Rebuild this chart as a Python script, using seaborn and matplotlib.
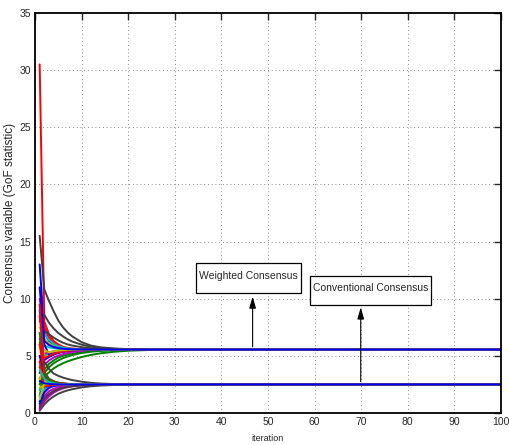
import matplotlib
matplotlib.use('Agg')
import matplotlib.pyplot as plt
from matplotlib.patches import Rectangle
import numpy as np
import pandas as pd
import seaborn as sns

iterations = [1, 2, 3, 4, 5, 6, 7, 8, 10, 12, 14, 17, 20, 25, 100]

# agents that settle on the weighted consensus (~5.55)
upper_agents = [
    [13.0, 7.0, 6.3, 5.95, 5.78, 5.68, 5.62, 5.59, 5.56, 5.55, 5.55, 5.55, 5.55, 5.55, 5.55],
    [2.0, 3.2, 3.55, 3.9, 4.15, 4.35, 4.52, 4.66, 4.9, 5.08, 5.22, 5.36, 5.45, 5.52, 5.55],
    [30.5, 8.0, 6.9, 6.3, 6.0, 5.8, 5.7, 5.64, 5.58, 5.56, 5.55, 5.55, 5.55, 5.55, 5.55],
    [6.2, 5.9, 5.75, 5.66, 5.61, 5.58, 5.57, 5.56, 5.55, 5.55, 5.55, 5.55, 5.55, 5.55, 5.55],
    [4.0, 4.6, 4.95, 5.15, 5.3, 5.38, 5.44, 5.48, 5.52, 5.54, 5.55, 5.55, 5.55, 5.55, 5.55],
    [7.5, 6.4, 6.0, 5.8, 5.7, 5.63, 5.6, 5.58, 5.56, 5.55, 5.55, 5.55, 5.55, 5.55, 5.55],
    [15.5, 10.8, 9.8, 8.9, 8.1, 7.5, 7.05, 6.7, 6.2, 5.9, 5.75, 5.64, 5.59, 5.56, 5.55],
    [5.0, 4.7, 4.9, 5.1, 5.25, 5.35, 5.42, 5.46, 5.51, 5.53, 5.54, 5.55, 5.55, 5.55, 5.55],
    [3.0, 3.8, 4.3, 4.6, 4.85, 5.0, 5.12, 5.22, 5.35, 5.43, 5.48, 5.52, 5.54, 5.55, 5.55],
    [10.0, 7.5, 6.6, 6.15, 5.9, 5.75, 5.67, 5.62, 5.57, 5.56, 5.55, 5.55, 5.55, 5.55, 5.55],
    [4.5, 5.0, 5.2, 5.32, 5.4, 5.45, 5.48, 5.5, 5.53, 5.54, 5.55, 5.55, 5.55, 5.55, 5.55],
    [3.5, 4.2, 4.6, 4.85, 5.02, 5.15, 5.25, 5.32, 5.42, 5.48, 5.51, 5.53, 5.54, 5.55, 5.55],
    [5.8, 6.5, 6.1, 5.88, 5.75, 5.67, 5.62, 5.59, 5.56, 5.55, 5.55, 5.55, 5.55, 5.55, 5.55],
    [8.0, 8.6, 7.9, 7.4, 7.0, 6.7, 6.45, 6.25, 5.98, 5.8, 5.7, 5.62, 5.58, 5.56, 5.55],
    [9.0, 6.0, 5.1, 5.2, 5.3, 5.38, 5.43, 5.47, 5.51, 5.53, 5.54, 5.55, 5.55, 5.55, 5.55],
    [1.5, 3.5, 4.0, 4.35, 4.6, 4.8, 4.95, 5.07, 5.25, 5.36, 5.43, 5.49, 5.52, 5.54, 5.55],
    [8.5, 4.8, 5.0, 5.18, 5.3, 5.38, 5.44, 5.48, 5.52, 5.54, 5.55, 5.55, 5.55, 5.55, 5.55],
    [7.0, 6.9, 6.4, 6.05, 5.85, 5.73, 5.66, 5.61, 5.57, 5.55, 5.55, 5.55, 5.55, 5.55, 5.55],
    [6.5, 5.2, 5.3, 5.4, 5.45, 5.49, 5.51, 5.53, 5.54, 5.55, 5.55, 5.55, 5.55, 5.55, 5.55],
    [2.5, 5.5, 5.3, 5.4, 5.46, 5.5, 5.52, 5.53, 5.54, 5.55, 5.55, 5.55, 5.55, 5.55, 5.55],
    [6.0, 7.2, 6.9, 6.6, 6.35, 6.15, 6.0, 5.9, 5.76, 5.67, 5.62, 5.58, 5.56, 5.55, 5.55],
    [11.0, 6.3, 5.95, 5.78, 5.68, 5.62, 5.59, 5.57, 5.56, 5.55, 5.55, 5.55, 5.55, 5.55, 5.55],
]

# agents that settle on the conventional consensus (~2.5)
lower_agents = [
    [5.0, 3.2, 2.85, 2.7, 2.62, 2.57, 2.54, 2.52, 2.51, 2.5, 2.5, 2.5, 2.5, 2.5, 2.5],
    [7.0, 3.6, 3.0, 2.78, 2.66, 2.59, 2.55, 2.53, 2.51, 2.5, 2.5, 2.5, 2.5, 2.5, 2.5],
    [9.5, 3.5, 2.95, 2.75, 2.64, 2.58, 2.55, 2.53, 2.51, 2.5, 2.5, 2.5, 2.5, 2.5, 2.5],
    [2.0, 2.2, 2.32, 2.4, 2.44, 2.47, 2.48, 2.49, 2.5, 2.5, 2.5, 2.5, 2.5, 2.5, 2.5],
    [0.4, 1.2, 1.65, 1.95, 2.13, 2.26, 2.34, 2.39, 2.45, 2.48, 2.49, 2.5, 2.5, 2.5, 2.5],
    [3.0, 2.8, 2.68, 2.6, 2.56, 2.53, 2.52, 2.51, 2.5, 2.5, 2.5, 2.5, 2.5, 2.5, 2.5],
    [0.2, 0.75, 1.15, 1.45, 1.68, 1.85, 1.98, 2.08, 2.24, 2.34, 2.4, 2.45, 2.48, 2.5, 2.5],
    [1.0, 2.0, 2.3, 2.4, 2.45, 2.48, 2.49, 2.5, 2.5, 2.5, 2.5, 2.5, 2.5, 2.5, 2.5],
    [4.0, 3.0, 2.75, 2.63, 2.57, 2.54, 2.52, 2.51, 2.5, 2.5, 2.5, 2.5, 2.5, 2.5, 2.5],
    [6.0, 3.3, 2.9, 2.72, 2.62, 2.57, 2.54, 2.52, 2.51, 2.5, 2.5, 2.5, 2.5, 2.5, 2.5],
    [1.5, 2.0, 2.25, 2.37, 2.43, 2.46, 2.48, 2.49, 2.5, 2.5, 2.5, 2.5, 2.5, 2.5, 2.5],
    [0.6, 1.5, 1.9, 2.12, 2.26, 2.35, 2.41, 2.44, 2.48, 2.49, 2.5, 2.5, 2.5, 2.5, 2.5],
    [2.2, 2.45, 2.48, 2.5, 2.5, 2.5, 2.5, 2.5, 2.5, 2.5, 2.5, 2.5, 2.5, 2.5, 2.5],
    [3.5, 4.5, 3.85, 3.45, 3.25, 3.1, 2.98, 2.88, 2.74, 2.64, 2.58, 2.53, 2.51, 2.5, 2.5],
    [0.8, 1.8, 2.2, 2.36, 2.44, 2.47, 2.49, 2.5, 2.5, 2.5, 2.5, 2.5, 2.5, 2.5, 2.5],
    [2.5, 3.4, 2.9, 2.7, 2.6, 2.55, 2.52, 2.51, 2.5, 2.5, 2.5, 2.5, 2.5, 2.5, 2.5],
    [4.5, 2.3, 2.4, 2.45, 2.48, 2.49, 2.5, 2.5, 2.5, 2.5, 2.5, 2.5, 2.5, 2.5, 2.5],
    [3.8, 3.0, 2.7, 2.6, 2.55, 2.52, 2.51, 2.5, 2.5, 2.5, 2.5, 2.5, 2.5, 2.5, 2.5],
    [0.3, 1.0, 1.45, 1.78, 2.0, 2.15, 2.26, 2.33, 2.42, 2.46, 2.48, 2.5, 2.5, 2.5, 2.5],
    [1.2, 2.6, 2.55, 2.52, 2.51, 2.5, 2.5, 2.5, 2.5, 2.5, 2.5, 2.5, 2.5, 2.5, 2.5],
    [0.5, 1.3, 1.65, 1.9, 2.07, 2.2, 2.28, 2.34, 2.42, 2.46, 2.48, 2.49, 2.5, 2.5, 2.5],
    [2.8, 2.6, 2.55, 2.52, 2.51, 2.5, 2.5, 2.5, 2.5, 2.5, 2.5, 2.5, 2.5, 2.5, 2.5],
]

x_ticks = list(range(0, 101, 10))
y_ticks = list(range(0, 36, 5))

# old matlab colour order b g r c m y k
matlab_colors = [(0, 0, 1), (0, 0.5, 0), (1, 0, 0), (0, 0.75, 0.75),
                 (0.75, 0, 0.75), (0.75, 0.75, 0), (0.25, 0.25, 0.25)]

sns.set_style('white')
plt.rcParams['font.family'] = ['Liberation Sans', 'DejaVu Sans']

rows = []
for prefix, group in (('u', upper_agents), ('l', lower_agents)):
    for i, vals in enumerate(group):
        for it, v in zip(iterations, vals):
            rows.append({'agent': '{}{:02d}'.format(prefix, i), 'iteration': it, 'value': v})
df = pd.DataFrame(rows)

agents = list(dict.fromkeys(df['agent']))
palette = {}
for name in agents:
    palette[name] = matlab_colors[int(name[1:]) % 7]

fig = plt.figure(figsize=(5.1, 4.45), dpi=100)
ax = fig.add_axes([35 / 510, 32 / 445, 466 / 510, 400 / 445])

sns.lineplot(data=df, x='iteration', y='value', hue='agent', hue_order=agents,
             palette=palette, estimator=None, sort=False, legend=False,
             linewidth=1.4, ax=ax)

ax.set_xlim(0, 100)
ax.set_ylim(0, 35)
ax.set_xticks(x_ticks)
ax.set_yticks(y_ticks)
ax.grid(True, color='0.4', linestyle=(0, (1, 3.5)), linewidth=0.6)
ax.tick_params(direction='in', length=5, width=1, top=True, right=True,
               labelsize=7.5, pad=3)
for s in ax.spines.values():
    s.set_linewidth(1.3)
    s.set_color('black')

ax.set_xlabel('iteration', fontsize=6.5, labelpad=5)
ax.set_ylabel('Consensus variable (GoF statistic)', fontsize=8.5, labelpad=2)

# text boxes with arrows
ax.add_patch(Rectangle((34.5, 10.5), 22.6, 2.6, fc='white', ec='black', lw=0.9, zorder=5))
ax.text(45.8, 12.0, 'Weighted Consensus', fontsize=7.5, ha='center', va='center', zorder=6)
ax.add_patch(Rectangle((59.1, 9.45), 25.8, 2.55, fc='white', ec='black', lw=0.9, zorder=5))
ax.text(72.0, 10.95, 'Conventional Consensus', fontsize=7.5, ha='center', va='center', zorder=6)

arrow = dict(arrowstyle='-|>,head_length=0.7,head_width=0.2', color='black', lw=0.8,
             shrinkA=0, shrinkB=0)
ax.annotate('', xy=(46.7, 10.2), xytext=(46.7, 5.8), arrowprops=arrow, zorder=6)
ax.annotate('', xy=(69.9, 9.25), xytext=(69.9, 2.75), arrowprops=arrow, zorder=6)

plt.savefig('out.png', dpi=100)
